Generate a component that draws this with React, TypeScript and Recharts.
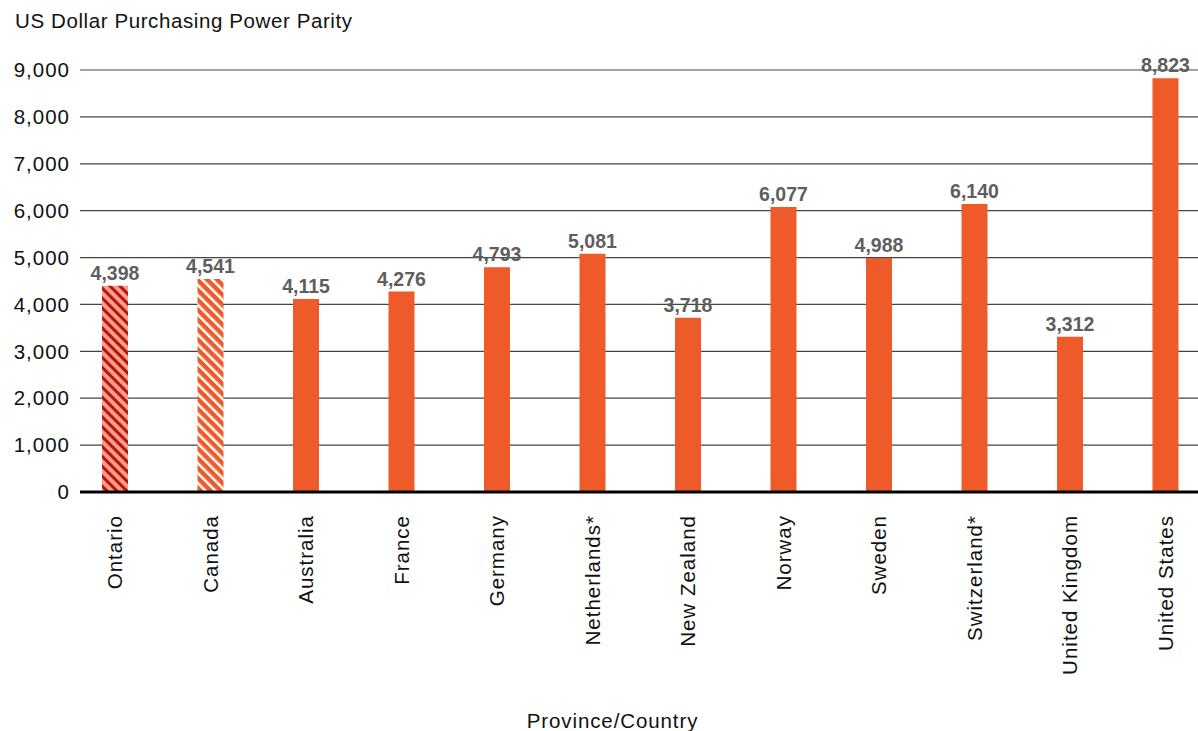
import { BarChart, Bar, XAxis, YAxis, CartesianGrid, Cell, LabelList, Label } from 'recharts';

const categories = [
  'Ontario', 'Canada', 'Australia', 'France', 'Germany', 'Netherlands*',
  'New Zealand', 'Norway', 'Sweden', 'Switzerland*', 'United Kingdom', 'United States',
];
const values = [4398, 4541, 4115, 4276, 4793, 5081, 3718, 6077, 4988, 6140, 3312, 8823];
const yTicks = [0, 1000, 2000, 3000, 4000, 5000, 6000, 7000, 8000, 9000];

const ORANGE = '#EF5A2B';
const FONT = '"Liberation Sans", Arial, Helvetica, sans-serif';

const data = categories.map((name, i) => ({ name, value: values[i] }));

function barFill(i: number) {
  if (i === 0) return 'url(#hatchOntario)';
  if (i === 1) return 'url(#hatchCanada)';
  return ORANGE;
}

function XTick(props: any) {
  const { x, y, payload } = props;
  return (
    <text
      x={x}
      y={y + 15}
      transform={`rotate(-90, ${x}, ${y + 15})`}
      textAnchor="end"
      dominantBaseline="central"
      fontSize={20.5}
      letterSpacing={1}
      fontFamily={FONT}
      fill="#111"
    >
      {payload.value}
    </text>
  );
}

export default function App() {
  return (
    <div style={{ position: 'absolute', left: 0, top: 0, width: 1198, height: 731, overflow: 'hidden', background: '#fff', fontFamily: FONT }}>
      <div style={{ position: 'absolute', left: 15, top: 9, fontSize: 20.5, letterSpacing: 0.6, color: '#111', whiteSpace: 'nowrap' }}>
        US Dollar Purchasing Power Parity
      </div>
      <BarChart
        width={1213}
        height={760}
        data={data}
        margin={{ top: 70, right: 0, bottom: 0, left: 0 }}
        barSize={26}
      >
        <defs>
          <pattern id="hatchOntario" patternUnits="userSpaceOnUse" width="7" height="7" patternTransform="rotate(-45)">
            <rect width="7" height="7" fill="#F6A07E" />
            <rect width="3" height="7" fill="#B3121E" />
          </pattern>
          <pattern id="hatchCanada" patternUnits="userSpaceOnUse" width="7" height="7" patternTransform="rotate(-45)">
            <rect width="7" height="7" fill={ORANGE} />
            <rect width="2.5" height="7" fill="#ffffff" />
          </pattern>
        </defs>
        <CartesianGrid vertical={false} stroke="#444" strokeWidth={1.2} />
        <XAxis
          dataKey="name"
          interval={0}
          height={268}
          padding={{ left: -13, right: 0 }}
          tickLine={false}
          axisLine={{ stroke: '#000', strokeWidth: 3 }}
          tick={<XTick />}
        >
          <Label
            value="Province/Country"
            position="insideBottom"
            offset={32}
            dx={-34}
            style={{ fontSize: 20.5, letterSpacing: 0.9, fontFamily: FONT, fill: '#111', fontWeight: 500 }}
          />
        </XAxis>
        <YAxis
          width={80}
          domain={[0, 9000]}
          ticks={yTicks}
          interval={0}
          tickLine={false}
          axisLine={false}
          tickSize={0}
          tickMargin={10}
          tickFormatter={(v: number) => v.toLocaleString('en-US')}
          tick={{ fontSize: 20.5, letterSpacing: 1, fontFamily: FONT, fill: '#111' }}
        />
        <Bar dataKey="value" isAnimationActive={false}>
          {data.map((d, i) => (
            <Cell key={d.name} fill={barFill(i)} />
          ))}
          <LabelList
            dataKey="value"
            position="top"
            offset={6}
            formatter={(v: any) => Number(v).toLocaleString('en-US')}
            style={{ fontSize: 19.5, fontFamily: FONT, fill: '#5E5E5E', fontWeight: 'bold' }}
          />
        </Bar>
      </BarChart>
    </div>
  );
}
